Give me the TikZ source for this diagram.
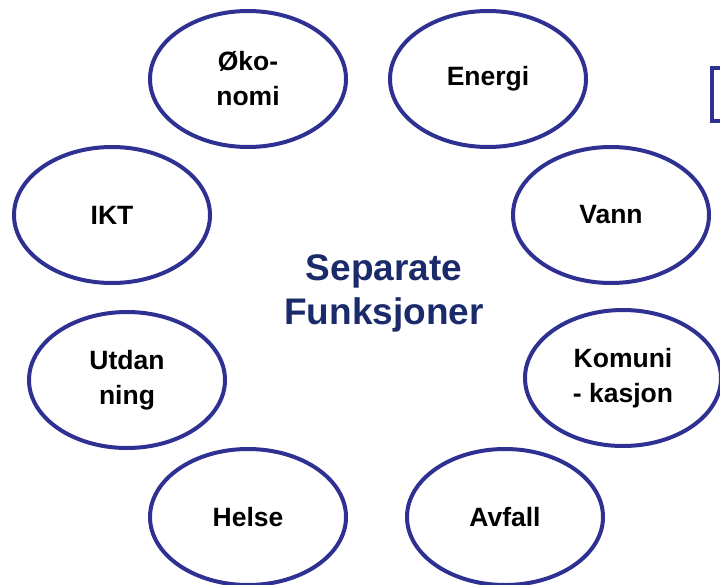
\documentclass[tikz,border=0pt]{standalone}
\usepackage{fontspec}
\setmainfont{Liberation Sans}
\usetikzlibrary{shapes.geometric}
\definecolor{ring}{HTML}{2E3192}
\definecolor{navy}{HTML}{1B2A6B}
\begin{document}
\begin{tikzpicture}[x=1pt,y=-1pt,
  topic/.style={ellipse,draw=ring,line width=4pt,fill=white,minimum width=196pt,minimum height=136pt,
    inner sep=0pt,font=\fontsize{26.5}{35}\bfseries\selectfont,align=center,text=black},
  title/.style={font=\fontsize{37}{44}\bfseries\selectfont,align=center,text=navy}]
\useasboundingbox (0,0) rectangle (720,584);
\node[topic] (okonomi) at (248,79) {Øko-\\nomi};
\node[topic] (energi) at (488,79) {Energi};
\node[topic] (ikt) at (112,215) {IKT};
\node[topic] (vann) at (611,215) {Vann};
\node[topic] (utdanning) at (127,380) {Utdan\\ning};
\node[topic] (kom) at (623,378) {Komuni\\- kasjon};
\node[topic] (helse) at (248,517) {Helse};
\node[topic] (avfall) at (505,517) {Avfall};
\node[title] (center) at (384,293) {Separate\\Funksjoner};
\node[draw=ring,line width=4pt,minimum width=40pt,minimum height=53pt,inner sep=0pt,anchor=north west] (box) at (710,66) {};
\end{tikzpicture}
\end{document}
